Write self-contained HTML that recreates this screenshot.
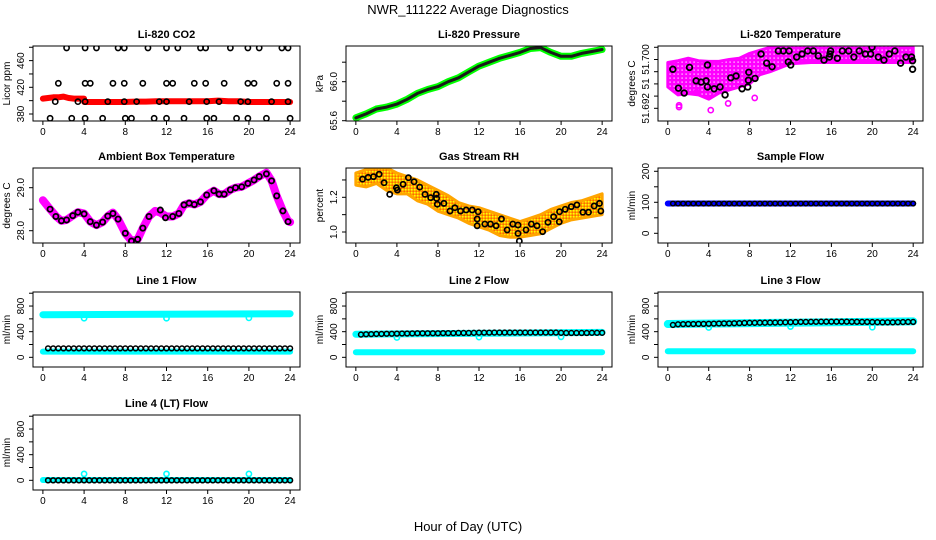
<!DOCTYPE html>
<html><head><meta charset="utf-8">
<style>
html,body{margin:0;padding:0;background:#fff;}
svg{display:block;font-family:"Liberation Sans",sans-serif;}
</style></head>
<body>
<svg id="chart" width="936" height="540" viewBox="0 0 936 540" xmlns="http://www.w3.org/2000/svg">
<defs>
<pattern id="rhpat" width="3" height="3" patternUnits="userSpaceOnUse"><rect width="3" height="3" fill="#ffa500"/><rect x="0" y="0" width="1.5" height="1.5" fill="#ffff00"/><rect x="1.5" y="1.5" width="1.5" height="1.5" fill="#ff3000" opacity="0.5"/></pattern>
<pattern id="tpat" width="4" height="4" patternUnits="userSpaceOnUse"><rect width="4" height="4" fill="#ff00ff"/><rect x="1.5" y="1.5" width="1.2" height="1.2" fill="#fff"/></pattern>
</defs>
<text x="468" y="14" text-anchor="middle" font-size="13">NWR_111222  Average Diagnostics</text>
<text x="468" y="531" text-anchor="middle" font-size="13">Hour of Day (UTC)</text>
</svg>
<script>
// ---------- data ----------
const xTicks=[0,4,8,12,16,20,24];
// CO2
const co2BlackHours=[2.3,4.1,5.2,7.3,7.9,10.2,12.0,13.1,15.3,15.8,18.2,19.9,21.0,23.2,23.8,
 1.5,4.1,4.6,6.8,7.9,9.7,12.0,12.6,14.7,15.8,17.6,19.9,20.5,22.7,23.8,
 1.2,3.4,4.1,6.3,7.9,9.1,11.3,12.0,14.2,15.9,17.1,19.2,19.9,22.2,23.8,
 0.7,2.8,4.1,5.8,8.0,8.6,10.8,12.0,13.7,15.9,16.6,18.8,19.9,21.7,24.0];
const co2BlackVals=[479,479,479,479,479,479,479,479,479,479,479,479,479,479,479,
 426,426,426,426,426,426,426,426,426,426,426,426,426,426,426,
 398.5,398.5,398.5,398.5,398.5,398.5,398.5,398.5,398.5,398.5,398.5,398.5,398.5,398.5,398.5,
 373.5,373.5,373.5,373.5,373.5,373.5,373.5,373.5,373.5,373.5,373.5,373.5,373.5,373.5,373.5];
const co2RedHours=[0,0.5,1,1.5,2,2.5,3,3.5,3.99,4.01,5,6,7,8,9,10,11,12,13,14,15,16,17,18,19,20,21,22,23,24];
const co2RedVals=[403,404,405,405,406,404,403,403,403,398,398,398,398,398,398.5,398.5,399,399,399,399,399,399,400,399,399,398,398,398,398,398];
// Pressure
const presHours=[0,1,2,3,4,5,6,7,8,9,10,11,12,13,14,15,16,17,18,19,20,21,22,23,24];
const presVals=[65.63,65.67,65.72,65.74,65.77,65.82,65.88,65.92,65.95,66.0,66.04,66.10,66.16,66.20,66.24,66.27,66.30,66.34,66.35,66.30,66.26,66.26,66.29,66.31,66.33];
// Li-820 temperature
const tempBlackHours=[0.49,1.04,1.6,2.12,2.77,3.26,3.75,3.88,3.88,4.53,5.11,5.6,6.16,6.68,7.26,7.82,7.88,7.92,8.53,9.12,9.67,10.2,10.81,11.3,11.86,11.79,12.02,12.6,13.13,13.68,14.23,14.72,15.28,15.8,15.86,15.93,16.58,17.07,17.69,18.2,18.73,19.32,19.84,19.97,20.59,21.14,21.66,22.21,22.77,23.29,23.84,23.94,23.94];
const tempBlackVals=[51.6984,51.6953,51.6945,51.6987,51.6965,51.6963,51.6965,51.6991,51.6955,51.6952,51.6955,51.6942,51.6970,51.6973,51.6952,51.6955,51.6966,51.6979,51.6969,51.7009,51.6994,51.6988,51.7014,51.7014,51.7014,51.6996,51.6991,51.7004,51.7009,51.7014,51.7014,51.7006,51.6999,51.7004,51.7009,51.7014,51.7002,51.7014,51.7014,51.7004,51.7014,51.7009,51.7009,51.7020,51.7004,51.6999,51.7009,51.7014,51.6994,51.7004,51.7004,51.6998,51.6984];
const tempBandHours=[0,1,2,3,4,5,6,7,8,9,10,12,14,16,18,20,22,24];
const tempBandLow=[51.6955,51.6942,51.6944,51.6942,51.6935,51.6945,51.6950,51.6955,51.6960,51.6975,51.6980,51.6993,51.6995,51.6995,51.6995,51.6995,51.6995,51.6995];
const tempBandHigh=[51.6995,51.6998,51.7002,51.6998,51.6997,51.6997,51.7000,51.7002,51.7010,51.7015,51.7020,51.7025,51.7025,51.7025,51.7025,51.7025,51.7025,51.7020];
const tempOutHours=[1.1,1.1,4.2,5.9,8.5,2.8];
const tempOutVals=[51.6925,51.6922,51.6917,51.6928,51.6937,51.6946];
// Ambient box temperature
const ambHours=[0.7,1.26,1.8,2.3,2.9,3.4,4.0,4.6,5.2,5.8,6.3,6.8,7.3,8.0,8.6,9.2,9.7,10.3,11.4,11.9,12.6,13.2,13.7,14.2,14.7,15.3,15.9,16.6,17.1,17.6,18.2,18.7,19.3,19.9,20.5,21.0,21.7,22.2,22.7,23.3,23.8];
const ambVals=[28.50,28.33,28.23,28.25,28.35,28.43,28.39,28.21,28.13,28.20,28.34,28.40,28.27,27.94,27.76,27.80,28.06,28.33,28.48,28.30,28.33,28.40,28.60,28.64,28.61,28.67,28.83,28.93,28.85,28.85,28.95,29.00,29.02,29.10,29.18,29.26,29.32,29.16,28.81,28.46,28.21];
const ambLineHours=[0,0.7,1.3,1.8,2.3,2.9,3.4,4.0,4.6,5.2,5.8,6.3,6.8,7.3,8.0,8.6,9.2,9.7,10.3,10.9,11.4,12.0,12.6,13.2,13.7,14.2,14.7,15.3,15.9,16.6,17.1,17.6,18.2,18.7,19.3,19.9,20.5,21.0,21.7,22.2,22.7,23.3,23.8,24];
const ambLineVals=[28.71,28.50,28.33,28.23,28.25,28.35,28.43,28.40,28.21,28.13,28.20,28.34,28.42,28.27,27.94,27.76,27.80,28.06,28.33,28.46,28.42,28.33,28.33,28.40,28.60,28.64,28.61,28.67,28.83,28.93,28.85,28.85,28.95,29.00,29.02,29.10,29.18,29.26,29.35,29.16,28.81,28.46,28.22,28.20];
// Gas stream RH
const rhHours=[0.65,1.2,1.72,2.27,2.75,3.30,3.95,4.05,4.6,5.12,5.67,6.22,6.74,7.29,7.84,7.87,7.94,8.58,9.17,9.65,10.2,10.75,11.34,11.92,11.82,11.82,12.57,13.12,13.67,14.19,14.74,15.29,15.8,15.8,15.93,16.58,17.1,17.65,18.2,18.72,19.27,19.82,19.85,20.4,20.99,21.54,22.12,22.67,23.22,23.74,23.87];
const rhVals=[1.305,1.315,1.319,1.333,1.284,1.217,1.255,1.242,1.275,1.313,1.29,1.259,1.217,1.198,1.217,1.194,1.16,1.165,1.121,1.14,1.121,1.127,1.127,1.117,1.075,1.036,1.046,1.046,1.036,1.075,1.012,1.046,1.04,0.992,0.948,1.012,1.046,1.036,1.002,1.056,1.088,1.059,1.117,1.131,1.146,1.156,1.114,1.114,1.15,1.165,1.121];
const rhBandHours=[0,1,2,3,4,5,6,7,8,9,10,11,12,13,14,15,16,17,18,19,20,21,22,23,24];
const rhBandLow=[1.27,1.26,1.28,1.24,1.22,1.22,1.18,1.16,1.12,1.10,1.08,1.05,1.03,1.01,0.98,0.97,0.97,0.98,0.99,1.02,1.05,1.07,1.08,1.09,1.10];
const rhBandHigh=[1.34,1.36,1.37,1.37,1.34,1.32,1.30,1.27,1.24,1.21,1.17,1.15,1.14,1.12,1.10,1.08,1.06,1.08,1.10,1.13,1.15,1.17,1.18,1.20,1.22];
// Sample flow
const halfHours=[0.5,1,1.5,2,2.5,3,3.5,4,4.5,5,5.5,6,6.5,7,7.5,8,8.5,9,9.5,10,10.5,11,11.5,12,12.5,13,13.5,14,14.5,15,15.5,16,16.5,17,17.5,18,18.5,19,19.5,20,20.5,21,21.5,22,22.5,23,23.5,24];
const sampleBlack=[96,96,96,96,96,96,96,96,96,96,96,96,96,96,96,96,96,96,96,96,96,96,96,96,96,96,96,96,96,96,96,96,96,96,96,96,96,96,96,96,96,96,96,96,96,96,96,96];
const flowLineHours=[0,24];
const sampleBlue=[96,96];
// Line flows
const line1Black=[140,140,140,140,140,140,140,140,140,140,140,140,140,140,140,140,140,140,140,140,140,140,140,140,140,140,140,140,140,140,140,140,140,140,140,140,140,140,140,140,140,140,140,140,140,140,140,140];
const line1CyanHi=[665,680];
const line1CyanLo=[90,90];
const line2Black=[355,360,362,365,365,368,368,370,372,372,374,375,376,376,376,376,378,378,378,380,380,380,382,384,385,385,386,386,386,386,386,386,386,386,386,386,386,386,386,382,380,380,380,380,380,382,382,382];
const line2CyanHi=[360,388];
const line2CyanLo=[80,80];
const line3Black=[505,515,518,520,520,522,522,524,526,528,530,530,532,534,536,538,538,540,540,542,542,544,546,548,550,552,552,554,554,556,556,556,556,556,556,554,554,552,552,550,548,546,546,546,548,550,552,552];
const line3CyanHi=[520,560];
const line3CyanLo=[95,95];
const line4Black=[0,0,0,0,0,0,0,0,0,0,0,0,0,0,0,0,0,0,0,0,0,0,0,0,0,0,0,0,0,0,0,0,0,0,0,0,0,0,0,0,0,0,0,0,0,0,0,0];
const line4Cyan=[5,5];
const dipHours=[4,12,20];
const line1Dips=[610,610,615];
const line2Dips=[310,315,320];
const line3Dips=[465,480,470];
const line4Spikes=[100,100,100];

// ---------- drawing ----------
const NS='http://www.w3.org/2000/svg';
const svg=document.getElementById('chart');
const colL=[33,346,658], colR=[300,612,923], rowT=[46,168,292,415];
function mk(tag,attrs,parent){const e=document.createElementNS(NS,tag);for(const k in attrs)e.setAttribute(k,attrs[k]);(parent||svg).appendChild(e);return e;}

function panel(name,col,row,title,ylab,ymin,ymax,ticks,labels,labelVals){
  const L=colL[col],R=colR[col],T=rowT[row],B=T+75;
  const g=mk('g',{});
  
  
  const xs=h=>L+(R-L)*(0.04+h/24)/1.08;
  const ys=v=>B-(B-T)*(v-ymin)/(ymax-ymin);
  const clipId='clip-'+name;
  const cp=mk('clipPath',{id:clipId},g);
  mk('rect',{x:L,y:T,width:R-L,height:B-T},cp);
  const plot=mk('g',{'clip-path':'url(#'+clipId+')'},g);
  
  
  const box=mk('rect',{x:L,y:T,width:R-L,height:B-T,fill:'none',stroke:'#000','stroke-width':1},g);
  
  
  const t=mk('text',{x:(L+R)/2,y:T-8,'text-anchor':'middle','font-size':11,'font-weight':'bold'},g);
  t.textContent=title;
  
  
  // x axis
  const xa=mk('g',{},g);
  
  
  mk('line',{x1:xs(xTicks[0]),x2:xs(xTicks[xTicks.length-1]),y1:B,y2:B,stroke:'#000'},xa);
  xTicks.forEach(v=>{
    mk('line',{x1:xs(v),x2:xs(v),y1:B,y2:B+4,stroke:'#000'},xa);
    const tl=mk('text',{x:xs(v),y:B+14,'text-anchor':'middle','font-size':10},xa);
    tl.textContent=v;
    
    
  });
  // y axis
  const ya=mk('g',{},g);
  
  
  mk('line',{x1:L,x2:L,y1:ys(ticks[0]),y2:ys(ticks[ticks.length-1]),stroke:'#000'},ya);
  ticks.forEach(v=>{mk('line',{x1:L-4,x2:L,y1:ys(v),y2:ys(v),stroke:'#000'},ya);});
  labelVals.forEach((v,i)=>{
    const y=ys(v),x=L-9;
    const tl=mk('text',{x:x,y:y,'text-anchor':'middle','font-size':10,transform:'rotate(-90 '+x+' '+y+')'},ya);
    tl.textContent=labels[i];
    
    
  });
  const yl=mk('text',{x:L-23,y:(T+B)/2,'text-anchor':'middle','font-size':10,transform:'rotate(-90 '+(L-23)+' '+((T+B)/2)+')'},g);
  yl.textContent=ylab;
  
  
  return {xs,ys,plot};
}
function line(p,hours,vals,color,w,name){
  const pts=hours.map((h,i)=>p.xs(h).toFixed(1)+','+p.ys(vals[i]).toFixed(1)).join(' ');
  const e=mk('polyline',{points:pts,fill:'none',stroke:color,'stroke-width':w,'stroke-linejoin':'round','stroke-linecap':'round'},p.plot);
  
  
}
function pts(p,hours,vals,color,name,r,sw){
  hours.forEach((h,i)=>{
    const c=mk('circle',{cx:p.xs(h),cy:p.ys(vals[i]),r:r||2.6,fill:'none',stroke:color,'stroke-width':sw||1.6},p.plot);
    
    
  });
}
function band(p,hours,lo,hi,fill,name){
  const a=hours.map((h,i)=>p.xs(h)+','+p.ys(hi[i]));
  const b=hours.map((h,i)=>p.xs(h)+','+p.ys(lo[i])).reverse();
  const e=mk('polygon',{points:a.concat(b).join(' '),fill:fill,stroke:fill==='url(#rhpat)'?'#ffa500':'#ff00ff','stroke-width':3,'stroke-linejoin':'round'},p.plot);
  
  
}

// Row 1
let p=panel('co2',0,0,'Li-820 CO2','Licor ppm',369.5,481.9,[380,400,420,440,460,480],['380','420','460'],[380,420,460]);
line(p,co2RedHours,co2RedVals,'#ff0000',6,'co2-red-series');
pts(p,co2BlackHours,co2BlackVals,'#000','co2-point');
p=panel('pressure',1,0,'Li-820 Pressure','kPa',65.597,66.366,[65.6,65.8,66.0,66.2],['65.6','66.0'],[65.6,66.0]);
line(p,presHours,presVals,'#00ff00',7,'pressure-green-series');
line(p,presHours,presVals,'#1a1a1a',3,'pressure-black-series');
p=panel('li820-temp',2,0,'Li-820 Temperature','degrees C',51.68992,51.70221,[51.692,51.694,51.696,51.698,51.700,51.702],['51.692','51','51.700'],[51.692,51.696,51.700]);
band(p,tempBandHours,tempBandLow,tempBandHigh,'url(#tpat)','temp-magenta-cloud');
pts(p,tempOutHours,tempOutVals,'#ff00ff','temp-magenta-point');
pts(p,tempBlackHours,tempBlackVals,'#000','temp-point',2.8,1.8);
// Row 2
p=panel('ambient',0,1,'Ambient Box Temperature','degrees C',27.714,29.458,[28.0,28.5,29.0],['28.0','29.0'],[28.0,29.0]);
line(p,ambLineHours,ambLineVals,'#ff00ff',8,'ambient-magenta-series');
pts(p,ambHours,ambVals,'#000','ambient-point',2.6,1.8);
p=panel('rh',1,1,'Gas Stream RH','percent',0.9366,1.3689,[1.0,1.1,1.2,1.3],['1.0','1.2'],[1.0,1.2]);
band(p,rhBandHours,rhBandLow,rhBandHigh,'url(#rhpat)','rh-orange-cloud');
pts(p,rhHours,rhVals,'#000','rh-point',2.6,1.7);
p=panel('sample-flow',2,1,'Sample Flow','ml/min',-31.3,210.6,[0,50,100,150,200],['0','100','200'],[0,100,200]);
line(p,flowLineHours,sampleBlue,'#0000ff',6,'sample-blue-series');
pts(p,halfHours,sampleBlack,'#000','sample-point',2.3,1.5);
// Row 3-4 flows
const fT=[0,200,400,600,800,1000], fL=['0','400','800'], fLV=[0,400,800];
p=panel('line1',0,2,'Line 1 Flow','ml/min',-151,1019,fT,fL,fLV);
line(p,flowLineHours,line1CyanHi,'#00ffff',7,'line1-cyan-upper');
line(p,flowLineHours,line1CyanLo,'#00ffff',6,'line1-cyan-lower');
pts(p,dipHours,line1Dips,'#00ffff','line1-cyan-dip');
pts(p,halfHours,line1Black,'#000','line1-point',2.4,1.5);
p=panel('line2',1,2,'Line 2 Flow','ml/min',-151,1019,fT,fL,fLV);
line(p,flowLineHours,line2CyanHi,'#00ffff',7,'line2-cyan-upper');
line(p,flowLineHours,line2CyanLo,'#00ffff',6,'line2-cyan-lower');
pts(p,dipHours,line2Dips,'#00ffff','line2-cyan-dip');
pts(p,halfHours,line2Black,'#000','line2-point',2.4,1.5);
p=panel('line3',2,2,'Line 3 Flow','ml/min',-151,1019,fT,fL,fLV);
line(p,flowLineHours,line3CyanHi,'#00ffff',8,'line3-cyan-upper');
line(p,flowLineHours,line3CyanLo,'#00ffff',6,'line3-cyan-lower');
pts(p,dipHours,line3Dips,'#00ffff','line3-cyan-dip');
pts(p,halfHours,line3Black,'#000','line3-point',2.4,1.5);
p=panel('line4',0,3,'Line 4 (LT) Flow','ml/min',-151,1019,fT,fL,fLV);
line(p,flowLineHours,line4Cyan,'#00ffff',6,'line4-cyan-series');
pts(p,dipHours,line4Spikes,'#00ffff','line4-cyan-spike');
pts(p,halfHours,line4Black,'#000','line4-point',2.4,1.6);
</script>
</body></html>
